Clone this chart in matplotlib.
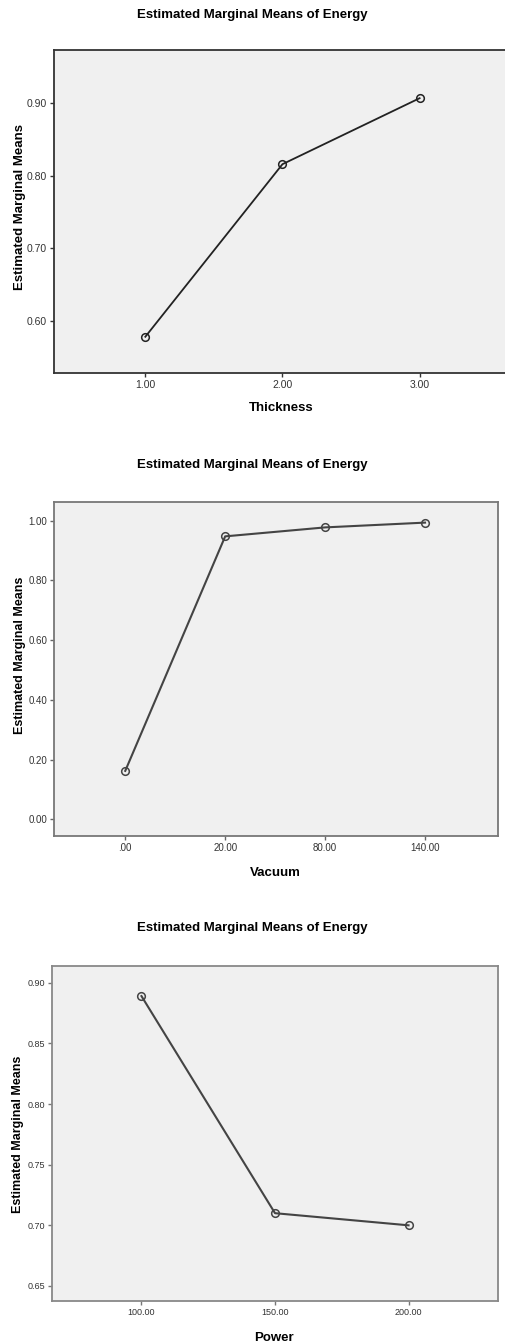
import matplotlib
matplotlib.use("Agg")
import matplotlib.pyplot as plt

plt.rcParams['font.family'] = ['Liberation Sans', 'DejaVu Sans']

title = "Estimated Marginal Means of Energy"
ylabel = "Estimated Marginal Means"

thickness_labels = ["1.00", "2.00", "3.00"]
thickness_values = [0.578, 0.816, 0.907]
thickness_yticks = [0.60, 0.70, 0.80, 0.90]

vacuum_labels = [".00", "20.00", "80.00", "140.00"]
vacuum_values = [0.162, 0.947, 0.977, 0.993]
vacuum_yticks = [0.00, 0.20, 0.40, 0.60, 0.80, 1.00]

power_labels = ["100.00", "150.00", "200.00"]
power_values = [0.889, 0.710, 0.700]
power_yticks = [0.65, 0.70, 0.75, 0.80, 0.85, 0.90]

W, H = 505, 1343
fig = plt.figure(figsize=(W / 100, H / 100), dpi=100)


def px_axes(left, top, right, bottom):
    return fig.add_axes([left / W, 1 - bottom / H, (right - left) / W, (bottom - top) / H])


panels = [
    dict(box=(54, 50, 506, 373), labels=thickness_labels, values=thickness_values,
         yticks=thickness_yticks, ylim=(0.528, 0.9735), xlim=(-0.666, 2.63),
         xlabel="Thickness", title_y=15, color="#222222",
         tickcolor="#333333", spine="#333333", xlabel_x=281, xlabel_y=408,
         ylab_x=20, ylab_y=207, ylab_fs=9.5, tick_fs=7.5, lw=1.3),
    dict(box=(54, 502, 498, 836), labels=vacuum_labels, values=vacuum_values,
         yticks=vacuum_yticks, ylim=(-0.056, 1.062), xlim=(-0.713, 3.73),
         xlabel="Vacuum", title_y=465, color="#444444",
         tickcolor="#666666", spine="#777777", xlabel_x=275, xlabel_y=873,
         ylab_x=20, ylab_y=655, ylab_fs=9, tick_fs=7, lw=1.5),
    dict(box=(52, 966, 498, 1301), labels=power_labels, values=power_values,
         yticks=power_yticks, ylim=(0.6376, 0.9138), xlim=(-0.67, 2.67),
         xlabel="Power", title_y=928, color="#444444",
         tickcolor="#777777", spine="#888888", xlabel_x=274, xlabel_y=1338,
         ylab_x=18, ylab_y=1134, ylab_fs=9, tick_fs=6.5, lw=1.5),
]

for p in panels:
    l, t, r, b = p["box"]
    ax = px_axes(l, t, r, b)
    ax.set_facecolor("#F0F0F0")
    x = list(range(len(p["labels"])))
    ax.plot(x, p["values"], color=p["color"], lw=p["lw"], marker="o", ms=5.5,
            mfc="none", mec=p["color"], mew=1.1, clip_on=False)
    ax.set_xlim(*p["xlim"])
    ax.set_ylim(*p["ylim"])
    ax.set_xticks(x)
    ax.set_xticklabels(p["labels"], fontsize=p["tick_fs"], color="#333333")
    ax.set_yticks(p["yticks"])
    ax.set_yticklabels(["{:.2f}".format(v) for v in p["yticks"]], fontsize=p["tick_fs"], color="#333333")
    ax.tick_params(axis="both", direction="out", length=3, width=1, color=p["tickcolor"], pad=2)
    for s in ax.spines.values():
        s.set_color(p["spine"])
        s.set_linewidth(1.3)
    fig.text(p["ylab_x"] / W, 1 - p["ylab_y"] / H, ylabel, rotation=90,
             ha="center", va="center", fontsize=p["ylab_fs"], fontweight="bold")
    fig.text(0.5, 1 - p["title_y"] / H, title,
             ha="center", va="center", fontsize=9.5, fontweight="bold")
    fig.text(p["xlabel_x"] / W, 1 - p["xlabel_y"] / H, p["xlabel"],
             ha="center", va="center", fontsize=9.5, fontweight="bold")

fig.savefig("out.png", dpi=100, facecolor="white")
